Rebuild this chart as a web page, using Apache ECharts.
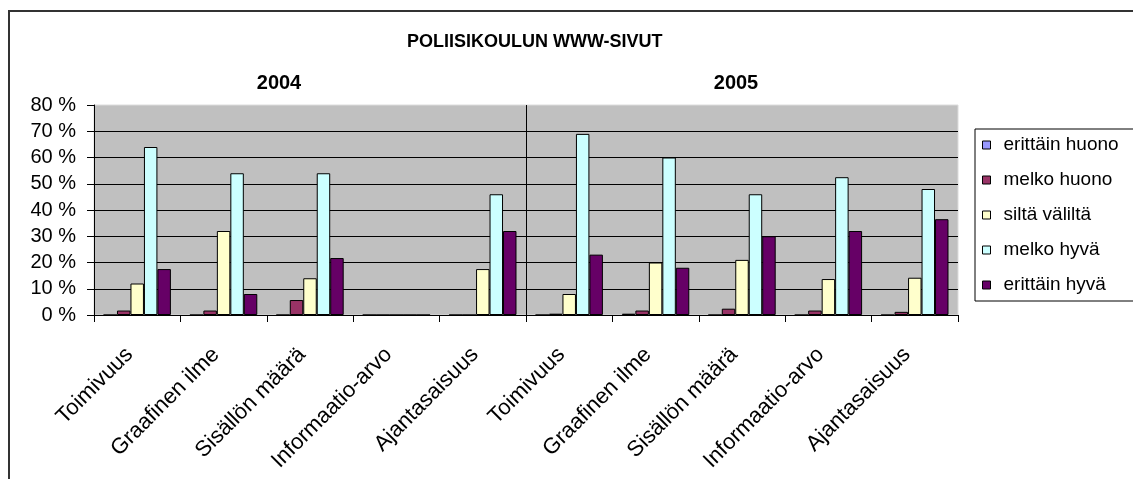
<!DOCTYPE html>
<html>
<head>
<meta charset="utf-8">
<script src="https://cdn.jsdelivr.net/npm/echarts@6/dist/echarts.min.js"></script>
<style>
  html, body { margin: 0; padding: 0; background: #fff; }
  #chart { width: 1133px; height: 479px; }
</style>
</head>
<body>
<div id="chart"></div>
<script>
var categories = [
  "Toimivuus", "Graafinen ilme", "Sisällön määrä", "Informaatio-arvo", "Ajantasaisuus",
  "Toimivuus", "Graafinen ilme", "Sisällön määrä", "Informaatio-arvo", "Ajantasaisuus"
];
var years = ["2004", "2005"];
var seriesNames = ["erittäin huono", "melko huono", "siltä väliltä", "melko hyvä", "erittäin hyvä"];

// prosentteja, 2004 ensin ja sitten 2005
var erittainHuono = [0, 0, 0, 0, 0, 0, 0.5, 0, 0, 0];
var melkoHuono = [1.7, 1.7, 5.7, 0, 0, 0.5, 1.7, 2.4, 1.7, 1.2];
var siltaValilta = [12, 32, 14, 0, 17.5, 8, 20, 21, 13.7, 14.2];
var melkoHyva = [64, 54, 54, 0, 46, 69, 60, 46, 52.5, 48];
var erittainHyva = [17.5, 8, 21.7, 0, 32, 23, 18, 30, 32, 36.5];

var colors = ["#9999FF", "#993366", "#FFFFCC", "#CCFFFF", "#660066"];
var values = [erittainHuono, melkoHuono, siltaValilta, melkoHyva, erittainHyva];

var font = "Liberation Sans, Arial, sans-serif";

var chartDom = document.getElementById("chart");
var myChart = echarts.init(chartDom);

var option = {
  backgroundColor: "#fff",
  animation: false,
  color: colors,
  title: {
    text: "POLIISIKOULUN WWW-SIVUT",
    left: 402,
    top: 28,
    textStyle: { fontFamily: font, fontSize: 18, fontWeight: "bold", color: "#000" }
  },
  graphic: [
    {
      type: "rect",
      shape: { x: 9, y: 11, width: 1300, height: 700 },
      style: { fill: null, stroke: "#333", lineWidth: 2 },
      silent: true
    }
  ],
  legend: {
    orient: "vertical",
    left: 975,
    top: 129,
    padding: [6, 40, 6, 7],
    itemWidth: 8,
    itemHeight: 8,
    itemGap: 15,
    icon: "rect",
    borderColor: "#000",
    borderWidth: 1,
    backgroundColor: "#fff",
    itemStyle: { borderColor: "#000", borderWidth: 1 },
    textStyle: { fontFamily: font, fontSize: 19, lineHeight: 20, color: "#000", padding: [0, 0, 0, 8] },
    data: seriesNames
  },
  grid: {
    left: 94,
    right: 175,
    top: 105,
    bottom: 164,
    show: true,
    backgroundColor: "#C0C0C0",
    borderColor: "#dcdcdc",
    borderWidth: 1
  },
  xAxis: [
    {
      type: "category",
      data: categories,
      axisLine: { lineStyle: { color: "#000", width: 1 } },
      axisTick: { show: true, length: 7, lineStyle: { color: "#000" } },
      axisLabel: {
        rotate: 45,
        interval: 0,
        margin: 44,
        verticalAlign: "bottom",
        fontFamily: font,
        fontSize: 22,
        color: "#000"
      }
    },
    {
      type: "category",
      position: "top",
      data: years,
      axisLine: { show: false },
      axisTick: { show: false },
      splitLine: {
        show: true,
        showMinLine: false,
        showMaxLine: false,
        lineStyle: { color: "#000", width: 1 }
      },
      axisLabel: {
        margin: 12,
        fontFamily: font,
        fontSize: 20,
        fontWeight: "bold",
        color: "#000",
        formatter: function (v, i) {
          return i === 0 ? "{a|" + v + "}" : "{b|" + v + "}";
        },
        rich: {
          a: { fontFamily: font, fontSize: 20, fontWeight: "bold", padding: [0, 62, 0, 0] },
          b: { fontFamily: font, fontSize: 20, fontWeight: "bold", padding: [0, 12, 0, 0] }
        }
      }
    }
  ],
  yAxis: {
    type: "value",
    min: 0,
    max: 80,
    interval: 10,
    axisLine: { show: true, lineStyle: { color: "#000" } },
    axisTick: { show: true, length: 7, lineStyle: { color: "#000" } },
    splitLine: { show: true, showMaxLine: false, lineStyle: { color: "#000", width: 1 } },
    axisLabel: {
      margin: 18,
      fontFamily: font,
      fontSize: 20,
      color: "#000",
      formatter: "{value} %"
    }
  },
  series: seriesNames.map(function (name, i) {
    return {
      name: name,
      type: "bar",
      barGap: "0%",
      barCategoryGap: "22%",
      itemStyle: { color: colors[i], borderColor: "#000", borderWidth: 1 },
      data: values[i]
    };
  })
};

myChart.setOption(option);
window.addEventListener("resize", function () {
  myChart.resize();
});
</script>
</body>
</html>
